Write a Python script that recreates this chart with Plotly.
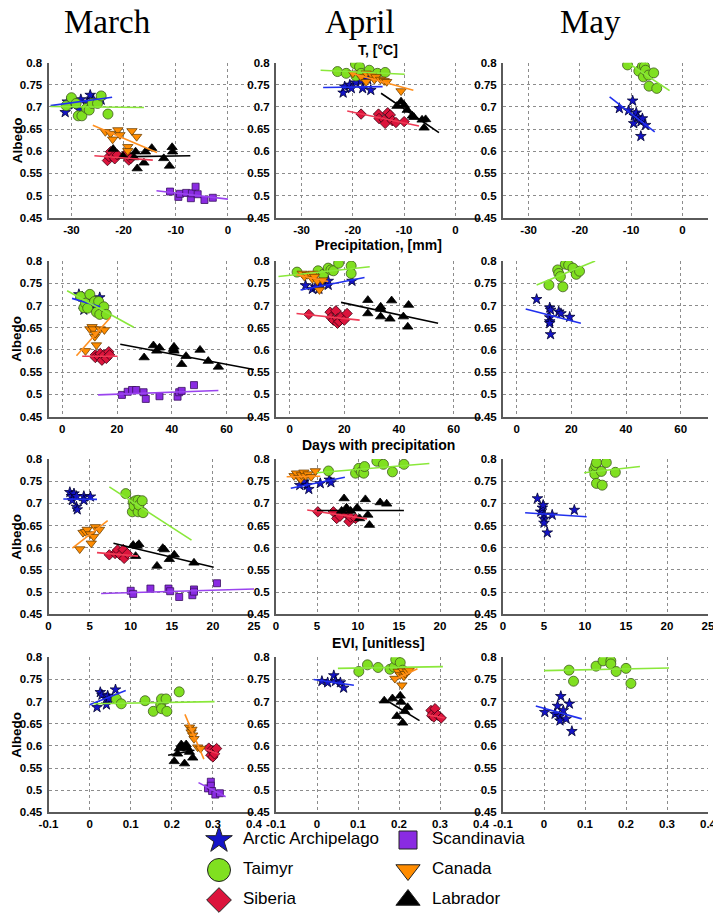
import plotly.graph_objects as go

# ---------------- DATA ----------------
# Naming: <ROW>_<MONTH>_<REGION>_X / _Y ; _FIT = [x_start, x_end, y_start, y_end] of drawn regression line
# ROW: T = temperature, P = precipitation, D = days with precipitation, E = EVI

MONTHS = ["March", "April", "May"]
ROW_TITLES = ["T, [°C]", "Precipitation, [mm]", "Days with precipitation", "EVI, [unitless]"]
REGION_NAMES = {"ARC": "Arctic Archipelago", "TAI": "Taimyr", "SIB": "Siberia",
                "CAN": "Canada", "LAB": "Labrador", "SCA": "Scandinavia"}
Y_TICKS = [0.45, 0.5, 0.55, 0.6, 0.65, 0.7, 0.75, 0.8]
Y_TICK_TEXT = ["0.45", "0.5", "0.55", "0.6", "0.65", "0.7", "0.75", "0.8"]
T_TICKS = [-30, -20, -10, 0]
T_TICK_TEXT = ["-30", "-20", "-10", "0"]
P_TICKS = [0, 20, 40, 60]
P_TICK_TEXT = ["0", "20", "40", "60"]
D_TICKS = [0, 5, 10, 15, 20, 25]
D_TICK_TEXT = ["0", "5", "10", "15", "20", "25"]
E_TICKS = [-0.1, 0, 0.1, 0.2, 0.3, 0.4]
E_TICK_TEXT = ["-0.1", "0", "0.1", "0.2", "0.3", "0.4"]

# ---- Temperature, March
T_MAR_ARC_X = [-31.2, -30.8, -29.5, -28.5, -28.2, -27.0, -26.4, -25.8, -24.3]
T_MAR_ARC_Y = [0.688, 0.712, 0.705, 0.694, 0.717, 0.711, 0.727, 0.716, 0.716]
T_MAR_ARC_FIT = [-34.0, -22.2, 0.703, 0.722]
T_MAR_TAI_X = [-31.0, -30.0, -29.1, -28.7, -28.0, -27.1, -26.6, -26.0, -25.0, -24.3, -23.0]
T_MAR_TAI_Y = [0.703, 0.721, 0.708, 0.680, 0.680, 0.697, 0.693, 0.708, 0.708, 0.725, 0.684]
T_MAR_TAI_FIT = [-34.0, -16.1, 0.701, 0.699]
T_MAR_SIB_X = [-23.1, -22.8, -22.5, -22.0, -21.7, -21.2, -19.5, -19.0, -18.6]
T_MAR_SIB_Y = [0.579, 0.588, 0.599, 0.588, 0.583, 0.592, 0.595, 0.580, 0.584]
T_MAR_SIB_FIT = [-25.6, -14.4, 0.590, 0.580]
T_MAR_CAN_X = [-23.5, -22.5, -22.1, -21.1, -20.7, -19.2, -19.2, -18.4, -17.5]
T_MAR_CAN_Y = [0.644, 0.640, 0.627, 0.648, 0.637, 0.610, 0.601, 0.646, 0.633]
T_MAR_CAN_FIT = [-25.9, -13.6, 0.659, 0.597]
T_MAR_LAB_X = [-22.0, -20.1, -18.0, -17.7, -17.4, -16.1, -15.8, -14.6, -12.3, -11.2, -10.7, -10.6]
T_MAR_LAB_Y = [0.605, 0.589, 0.586, 0.599, 0.561, 0.574, 0.599, 0.607, 0.584, 0.567, 0.609, 0.599]
T_MAR_LAB_FIT = [-18.4, -7.2, 0.588, 0.590]
T_MAR_SCA_X = [-11.1, -9.5, -9.2, -8.0, -7.1, -6.9, -6.2, -5.8, -4.5, -2.9]
T_MAR_SCA_Y = [0.509, 0.497, 0.504, 0.506, 0.494, 0.505, 0.520, 0.503, 0.490, 0.495]
T_MAR_SCA_FIT = [-13.7, 0.0, 0.511, 0.492]

# ---- Temperature, April
T_APR_ARC_X = [-21.9, -21.6, -20.6, -20.3, -19.4, -18.4, -18.1, -17.1, -16.5]
T_APR_ARC_Y = [0.732, 0.746, 0.750, 0.742, 0.755, 0.759, 0.742, 0.762, 0.738]
T_APR_ARC_FIT = [-25.8, -14.2, 0.744, 0.746]
T_APR_TAI_X = [-23.0, -21.3, -19.5, -19.4, -18.7, -18.4, -16.8, -15.2, -13.7]
T_APR_TAI_Y = [0.780, 0.776, 0.797, 0.770, 0.791, 0.776, 0.783, 0.776, 0.778]
T_APR_TAI_FIT = [-26.3, -9.9, 0.783, 0.774]
T_APR_SIB_X = [-18.4, -15.0, -14.9, -13.9, -13.7, -13.2, -12.7, -12.3, -11.6, -10.0]
T_APR_SIB_Y = [0.684, 0.684, 0.674, 0.671, 0.663, 0.687, 0.682, 0.669, 0.665, 0.667]
T_APR_SIB_FIT = [-21.1, -7.1, 0.691, 0.657]
T_APR_CAN_X = [-20.0, -18.4, -17.4, -17.4, -16.3, -15.8, -15.5, -14.6, -13.9, -13.4, -10.6]
T_APR_CAN_Y = [0.776, 0.768, 0.776, 0.757, 0.772, 0.762, 0.768, 0.762, 0.759, 0.757, 0.736]
T_APR_CAN_FIT = [-20.3, -8.2, 0.776, 0.738]
T_APR_LAB_X = [-11.4, -10.6, -10.0, -9.4, -8.4, -8.1, -6.5, -6.1, -5.8]
T_APR_LAB_Y = [0.702, 0.712, 0.704, 0.693, 0.680, 0.677, 0.671, 0.653, 0.672]
T_APR_LAB_FIT = [-14.5, -3.2, 0.731, 0.642]

# ---- Temperature, May
T_MAY_ARC_X = [-12.3, -10.5, -9.7, -9.5, -9.4, -9.0, -8.7, -8.1, -8.1, -7.8, -7.2]
T_MAY_ARC_Y = [0.697, 0.692, 0.714, 0.663, 0.680, 0.687, 0.677, 0.667, 0.634, 0.674, 0.659]
T_MAY_ARC_FIT = [-14.2, -5.4, 0.723, 0.644]
T_MAY_TAI_X = [-10.7, -8.5, -7.8, -7.6, -7.4, -7.2, -6.6, -6.5, -5.6, -5.0]
T_MAY_TAI_Y = [0.795, 0.781, 0.792, 0.768, 0.792, 0.783, 0.772, 0.747, 0.777, 0.742]
T_MAY_TAI_FIT = [-10.3, -2.5, 0.797, 0.737]

# ---- Precipitation, March
P_MAR_ARC_X = [6.1, 7.3, 7.9, 9.7, 11.5, 12.7, 13.7]
P_MAR_ARC_Y = [0.725, 0.720, 0.690, 0.709, 0.697, 0.705, 0.718]
P_MAR_ARC_FIT = [3.6, 13.9, 0.716, 0.697]
P_MAR_TAI_X = [6.7, 7.9, 8.5, 9.3, 10.1, 11.8, 12.5, 13.3, 13.7, 15.2, 16.1]
P_MAR_TAI_Y = [0.720, 0.695, 0.705, 0.694, 0.725, 0.709, 0.685, 0.709, 0.680, 0.697, 0.680]
P_MAR_TAI_FIT = [1.8, 26.1, 0.733, 0.651]
P_MAR_SIB_X = [12.1, 12.1, 13.3, 13.9, 14.5, 15.2, 16.1, 17.0, 17.3]
P_MAR_SIB_Y = [0.589, 0.583, 0.585, 0.592, 0.577, 0.589, 0.581, 0.596, 0.589]
P_MAR_SIB_FIT = [7.3, 20.2, 0.586, 0.586]
P_MAR_CAN_X = [8.5, 10.1, 10.9, 11.3, 11.9, 12.1, 12.5, 13.9, 15.4]
P_MAR_CAN_Y = [0.598, 0.647, 0.652, 0.647, 0.630, 0.637, 0.611, 0.647, 0.645]
P_MAR_CAN_FIT = [5.2, 17.6, 0.587, 0.673]
P_MAR_LAB_X = [29.9, 33.3, 34.5, 35.5, 40.6, 40.8, 40.8, 43.6, 45.2, 50.3, 53.3, 57.0]
P_MAR_LAB_Y = [0.583, 0.610, 0.598, 0.605, 0.602, 0.607, 0.598, 0.568, 0.586, 0.600, 0.575, 0.562]
P_MAR_LAB_FIT = [21.2, 70.0, 0.613, 0.556]
P_MAR_SCA_X = [21.8, 23.9, 25.5, 27.0, 29.7, 30.5, 35.5, 42.1, 42.7, 43.6, 48.1]
P_MAR_SCA_Y = [0.499, 0.506, 0.510, 0.510, 0.505, 0.490, 0.496, 0.495, 0.505, 0.508, 0.521]
P_MAR_SCA_FIT = [13.1, 57.0, 0.499, 0.509]

# ---- Precipitation, April
P_APR_ARC_X = [5.8, 8.3, 9.5, 10.7, 11.4, 14.1, 14.1, 22.8]
P_APR_ARC_Y = [0.745, 0.737, 0.742, 0.737, 0.748, 0.746, 0.755, 0.755]
P_APR_ARC_FIT = [4.0, 27.4, 0.735, 0.763]
P_APR_TAI_X = [2.7, 10.4, 12.3, 14.1, 15.1, 16.0, 17.9, 22.5, 22.5]
P_APR_TAI_Y = [0.775, 0.778, 0.770, 0.784, 0.780, 0.778, 0.795, 0.789, 0.772]
P_APR_TAI_FIT = [-4.1, 29.3, 0.765, 0.787]
P_APR_SIB_X = [7.0, 14.8, 15.1, 16.0, 16.9, 17.5, 17.5, 18.1, 18.8, 20.0, 21.0]
P_APR_SIB_Y = [0.680, 0.685, 0.673, 0.667, 0.688, 0.670, 0.660, 0.664, 0.675, 0.667, 0.682]
P_APR_SIB_FIT = [2.5, 25.6, 0.682, 0.667]
P_APR_CAN_X = [4.6, 5.4, 6.4, 7.7, 8.3, 8.6, 9.1, 10.1, 10.9, 12.0]
P_APR_CAN_Y = [0.772, 0.765, 0.769, 0.770, 0.760, 0.772, 0.765, 0.755, 0.735, 0.757]
P_APR_CAN_FIT = [2.5, 14.1, 0.769, 0.754]
P_APR_LAB_X = [28.6, 28.6, 33.3, 33.3, 33.3, 36.7, 37.3, 41.6, 43.2, 43.5]
P_APR_LAB_Y = [0.712, 0.682, 0.697, 0.692, 0.675, 0.670, 0.711, 0.675, 0.652, 0.701]
P_APR_LAB_FIT = [18.8, 54.3, 0.707, 0.660]

# ---- Precipitation, May
P_MAY_ARC_X = [7.3, 12.1, 12.4, 12.1, 12.1, 12.1, 12.4, 15.4, 16.2, 19.4]
P_MAY_ARC_Y = [0.714, 0.695, 0.690, 0.673, 0.664, 0.660, 0.635, 0.686, 0.682, 0.674]
P_MAY_ARC_FIT = [3.3, 23.5, 0.692, 0.660]
P_MAY_TAI_X = [11.8, 15.0, 15.4, 16.0, 16.9, 17.8, 19.0, 20.6, 21.8, 23.0]
P_MAY_TAI_Y = [0.746, 0.780, 0.772, 0.765, 0.742, 0.793, 0.791, 0.784, 0.770, 0.777]
P_MAY_TAI_FIT = [7.3, 28.7, 0.746, 0.800]

# ---- Days with precipitation, March
D_MAR_ARC_X = [2.6, 2.8, 2.9, 3.1, 3.4, 3.4, 3.5, 4.3, 4.3, 5.1]
D_MAR_ARC_Y = [0.725, 0.716, 0.707, 0.722, 0.716, 0.692, 0.686, 0.716, 0.707, 0.715]
D_MAR_ARC_FIT = [1.8, 5.9, 0.710, 0.709]
D_MAR_TAI_X = [9.4, 10.2, 10.3, 10.4, 10.6, 10.9, 10.9, 11.0, 11.4, 11.5]
D_MAR_TAI_Y = [0.722, 0.681, 0.703, 0.694, 0.706, 0.707, 0.681, 0.696, 0.706, 0.679]
D_MAR_TAI_FIT = [7.4, 17.4, 0.737, 0.617]
D_MAR_SIB_X = [7.4, 8.1, 8.3, 8.4, 8.7, 9.1, 9.2, 9.6]
D_MAR_SIB_Y = [0.584, 0.587, 0.591, 0.595, 0.584, 0.596, 0.576, 0.587]
D_MAR_SIB_FIT = [5.9, 10.9, 0.589, 0.581]
D_MAR_CAN_X = [3.8, 4.2, 4.5, 4.7, 5.1, 5.2, 5.5, 5.7, 6.2]
D_MAR_CAN_Y = [0.597, 0.634, 0.636, 0.641, 0.631, 0.610, 0.625, 0.647, 0.641]
D_MAR_CAN_FIT = [2.9, 7.2, 0.599, 0.661]
D_MAR_LAB_X = [10.3, 10.6, 10.8, 11.0, 13.2, 13.9, 14.1, 14.7, 15.3, 17.7]
D_MAR_LAB_Y = [0.606, 0.581, 0.604, 0.608, 0.559, 0.599, 0.596, 0.574, 0.584, 0.566]
D_MAR_LAB_FIT = [7.9, 20.1, 0.610, 0.556]
D_MAR_SCA_X = [10.0, 10.3, 12.4, 14.6, 14.8, 15.9, 17.5, 17.7, 17.7, 20.5]
D_MAR_SCA_Y = [0.503, 0.496, 0.508, 0.508, 0.502, 0.489, 0.493, 0.506, 0.501, 0.520]
D_MAR_SCA_FIT = [6.4, 25.0, 0.497, 0.507]

# ---- Days with precipitation, April
D_APR_ARC_X = [2.9, 3.4, 3.8, 4.0, 5.4, 6.5, 6.7]
D_APR_ARC_Y = [0.741, 0.749, 0.741, 0.732, 0.745, 0.753, 0.747]
D_APR_ARC_FIT = [1.8, 8.4, 0.734, 0.759]
D_APR_TAI_X = [6.4, 9.7, 10.1, 10.4, 10.7, 10.8, 12.3, 13.1, 14.2, 15.6]
D_APR_TAI_Y = [0.773, 0.768, 0.779, 0.771, 0.768, 0.783, 0.795, 0.788, 0.771, 0.788]
D_APR_TAI_FIT = [5.0, 18.7, 0.769, 0.790]
D_APR_SIB_X = [5.1, 7.0, 7.4, 7.8, 8.6, 8.9, 9.1, 9.7]
D_APR_SIB_Y = [0.681, 0.681, 0.666, 0.671, 0.676, 0.659, 0.669, 0.666]
D_APR_SIB_FIT = [3.8, 11.1, 0.685, 0.665]
D_APR_CAN_X = [2.2, 2.5, 2.8, 3.0, 3.1, 3.4, 3.6, 3.9, 4.3, 4.8]
D_APR_CAN_Y = [0.762, 0.768, 0.758, 0.755, 0.764, 0.770, 0.762, 0.766, 0.760, 0.773]
D_APR_CAN_FIT = [1.3, 5.4, 0.760, 0.761]
D_APR_LAB_X = [8.0, 8.3, 8.6, 9.1, 9.9, 10.2, 10.9, 11.2, 11.4, 12.7, 13.5]
D_APR_LAB_Y = [0.683, 0.711, 0.690, 0.683, 0.690, 0.666, 0.709, 0.674, 0.651, 0.702, 0.699]
D_APR_LAB_FIT = [5.0, 15.6, 0.684, 0.684]

# ---- Days with precipitation, May
D_MAY_ARC_X = [4.2, 4.6, 4.8, 4.9, 5.0, 5.0, 5.0, 5.4, 6.0, 8.7]
D_MAY_ARC_Y = [0.711, 0.681, 0.690, 0.696, 0.674, 0.665, 0.656, 0.634, 0.674, 0.685]
D_MAY_ARC_FIT = [2.7, 10.2, 0.679, 0.670]
D_MAY_TAI_X = [11.1, 11.2, 11.3, 11.4, 11.4, 12.0, 12.1, 12.6, 13.7]
D_MAY_TAI_Y = [0.776, 0.766, 0.785, 0.792, 0.745, 0.772, 0.741, 0.792, 0.770]
D_MAY_TAI_FIT = [9.9, 16.7, 0.769, 0.783]

# ---- EVI, March
E_MAR_ARC_X = [0.018, 0.026, 0.030, 0.041, 0.041, 0.044, 0.047, 0.063]
E_MAR_ARC_Y = [0.687, 0.721, 0.715, 0.706, 0.693, 0.713, 0.706, 0.727]
E_MAR_ARC_FIT = [0.0, 0.088, 0.693, 0.725]
E_MAR_TAI_X = [0.065, 0.077, 0.135, 0.155, 0.173, 0.175, 0.175, 0.186, 0.188, 0.218]
E_MAR_TAI_Y = [0.706, 0.695, 0.702, 0.678, 0.693, 0.706, 0.684, 0.706, 0.678, 0.722]
E_MAR_TAI_FIT = [0.010, 0.304, 0.695, 0.700]
E_MAR_SIB_X = [0.290, 0.295, 0.296, 0.300, 0.302, 0.304, 0.309]
E_MAR_SIB_Y = [0.595, 0.579, 0.590, 0.575, 0.588, 0.582, 0.594]
E_MAR_SIB_FIT = [0.282, 0.314, 0.592, 0.582]
E_MAR_CAN_X = [0.243, 0.247, 0.249, 0.251, 0.254, 0.263, 0.270]
E_MAR_CAN_Y = [0.642, 0.631, 0.637, 0.624, 0.616, 0.597, 0.594]
E_MAR_CAN_FIT = [0.232, 0.278, 0.671, 0.570]
E_MAR_LAB_X = [0.206, 0.214, 0.218, 0.223, 0.229, 0.231, 0.235, 0.239, 0.243, 0.251]
E_MAR_LAB_Y = [0.565, 0.582, 0.594, 0.603, 0.597, 0.560, 0.603, 0.594, 0.586, 0.573]
E_MAR_LAB_FIT = [0.191, 0.255, 0.579, 0.590]
E_MAR_SCA_X = [0.288, 0.295, 0.295, 0.298, 0.306, 0.317]
E_MAR_SCA_Y = [0.504, 0.519, 0.510, 0.498, 0.490, 0.493]
E_MAR_SCA_FIT = [0.265, 0.331, 0.517, 0.485]

# ---- EVI, April
E_APR_ARC_X = [0.012, 0.026, 0.041, 0.045, 0.057, 0.065]
E_APR_ARC_Y = [0.746, 0.743, 0.759, 0.746, 0.743, 0.731]
E_APR_ARC_FIT = [-0.008, 0.090, 0.750, 0.737]
E_APR_TAI_X = [0.102, 0.123, 0.149, 0.178, 0.188, 0.192, 0.203, 0.209]
E_APR_TAI_Y = [0.768, 0.783, 0.777, 0.773, 0.778, 0.795, 0.788, 0.771]
E_APR_TAI_FIT = [0.051, 0.307, 0.775, 0.779]
E_APR_SIB_X = [0.278, 0.280, 0.282, 0.285, 0.288, 0.295, 0.303]
E_APR_SIB_Y = [0.680, 0.668, 0.672, 0.665, 0.684, 0.669, 0.663]
E_APR_SIB_FIT = [0.270, 0.311, 0.670, 0.663]
E_APR_CAN_X = [0.190, 0.198, 0.203, 0.207, 0.210, 0.212, 0.215, 0.220, 0.225]
E_APR_CAN_Y = [0.752, 0.768, 0.760, 0.737, 0.770, 0.757, 0.763, 0.768, 0.771]
E_APR_CAN_FIT = [0.188, 0.245, 0.749, 0.774]
E_APR_LAB_X = [0.164, 0.184, 0.195, 0.203, 0.205, 0.209, 0.214, 0.221]
E_APR_LAB_Y = [0.702, 0.707, 0.667, 0.713, 0.699, 0.652, 0.678, 0.687]
E_APR_LAB_FIT = [0.162, 0.250, 0.707, 0.657]

# ---- EVI, May
E_MAY_ARC_X = [0.002, 0.027, 0.033, 0.038, 0.039, 0.041, 0.047, 0.054, 0.062, 0.068]
E_MAY_ARC_Y = [0.676, 0.672, 0.690, 0.667, 0.657, 0.712, 0.680, 0.661, 0.695, 0.633]
E_MAY_ARC_FIT = [-0.020, 0.092, 0.690, 0.661]
E_MAY_TAI_X = [0.061, 0.072, 0.127, 0.144, 0.163, 0.163, 0.176, 0.200, 0.212]
E_MAY_TAI_Y = [0.771, 0.746, 0.780, 0.792, 0.792, 0.785, 0.768, 0.775, 0.741]
E_MAY_TAI_FIT = [0.0, 0.305, 0.770, 0.776]

# ---------------- LAYOUT / STYLE ----------------
W, H = 713, 913
COLS_PX = [(48.5, 254.0), (276.0, 481.0), (503.0, 708.0)]
ROWS_PX = [(62.7, 217.7), (261.0, 416.7), (459.0, 614.3), (657.3, 812.3)]
ROW_KEYS = ["T", "P", "D", "E"]
MONTH_KEYS = ["MAR", "APR", "MAY"]
REGION_ORDER = ["ARC", "TAI", "SIB", "SCA", "CAN", "LAB"]
X_RANGES = {
    "T": [[-34.4, 5], [-35, 5], [-35, 5]],
    "P": [[-5, 70], [-5, 70], [-5, 70]],
    "D": [[0, 25], [0, 25], [0, 25]],
    "E": [[-0.1, 0.4], [-0.1, 0.4], [-0.1, 0.4]],
}
X_TICKS = {"T": (T_TICKS, T_TICK_TEXT), "P": (P_TICKS, P_TICK_TEXT),
           "D": (D_TICKS, D_TICK_TEXT), "E": (E_TICKS, E_TICK_TEXT)}

STYLE = {
    "ARC": dict(symbol="star", size=8, fill="#1414c8", edge="#000030", line="#2030ee", lsize=20),
    "TAI": dict(symbol="circle", size=10, fill="#80e020", edge="#405a20", line="#8ae83a", lsize=23),
    "SIB": dict(symbol="diamond", size=8, fill="#dc143c", edge="#3a0010", line="#ee3a55", lsize=19),
    "CAN": dict(symbol="triangle-down", size=9, fill="#ff8c00", edge="#704000", line="#ff9020", lsize=21),
    "LAB": dict(symbol="triangle-up", size=9, fill="#000000", edge="#000000", line="#000000", lsize=21),
    "SCA": dict(symbol="square", size=7, fill="#8a2be2", edge="#3a1060", line="#9a44ee", lsize=18),
}
LEGEND_SLOTS = [("ARC", 219, 840), ("SCA", 408, 840), ("TAI", 219, 870),
                ("CAN", 408, 870), ("SIB", 219, 900), ("LAB", 408, 900)]
LEGEND_TOP_PX = 822

TICK_FONT = dict(family="Liberation Sans, Arial, sans-serif", size=11.5, color="#000000", weight="bold")
GRID_COLOR = "#8c8c8c"
AXIS_COLOR = "#5a5a5a"

fx = lambda px: px / W
fy = lambda py: 1 - py / H

fig = go.Figure()
layout = dict(width=W, height=H, margin=dict(l=0, r=0, t=0, b=0, autoexpand=False),
              paper_bgcolor="white", plot_bgcolor="white", showlegend=False)

g = globals()
for r, rk in enumerate(ROW_KEYS):
    for c, mk in enumerate(MONTH_KEYS):
        k = r * 3 + c + 1
        xa = "x" if k == 1 else f"x{k}"
        ya = "y" if k == 1 else f"y{k}"
        present = [reg for reg in REGION_ORDER if f"{rk}_{mk}_{reg}_X" in g]
        for reg in present:
            st = STYLE[reg]
            fig.add_trace(go.Scatter(
                x=g[f"{rk}_{mk}_{reg}_X"], y=g[f"{rk}_{mk}_{reg}_Y"], mode="markers",
                name=REGION_NAMES[reg], xaxis=xa, yaxis=ya,
                marker=dict(symbol=st["symbol"], size=st["size"], color=st["fill"], opacity=1,
                            line=dict(color=st["edge"], width=0.8))))
        for reg in present:
            st = STYLE[reg]
            x0, x1, y0, y1 = g[f"{rk}_{mk}_{reg}_FIT"]
            fig.add_trace(go.Scatter(
                x=[x0, x1], y=[y0, y1], mode="lines", name=REGION_NAMES[reg] + " fit",
                xaxis=xa, yaxis=ya, line=dict(color=st["line"], width=1.6), hoverinfo="skip"))
        tv, tt = X_TICKS[rk]
        xkey = "xaxis" if k == 1 else f"xaxis{k}"
        ykey = "yaxis" if k == 1 else f"yaxis{k}"
        layout[xkey] = dict(domain=[fx(COLS_PX[c][0]), fx(COLS_PX[c][1])], anchor=ya,
                            range=X_RANGES[rk][c], tickvals=tv, ticktext=tt, automargin=False,
                            showgrid=True, gridcolor=GRID_COLOR, griddash="dot", gridwidth=1,
                            showline=True, linecolor=AXIS_COLOR, linewidth=2, zeroline=False,
                            ticks="", tickfont=TICK_FONT, ticklabeloverflow="allow")
        layout[ykey] = dict(domain=[fy(ROWS_PX[r][1]), fy(ROWS_PX[r][0])], anchor=xa,
                            range=[0.45, 0.8], tickvals=Y_TICKS, ticktext=Y_TICK_TEXT, automargin=False,
                            showgrid=True, gridcolor=GRID_COLOR, griddash="dot", gridwidth=1,
                            showline=True, linecolor=AXIS_COLOR, linewidth=2, zeroline=False,
                            ticks="", ticklabelstandoff=2, tickfont=TICK_FONT)

# legend drawn on a pixel-coordinate axis occupying the strip under the panels
fig.add_trace(go.Scatter(
    x=[s[1] for s in LEGEND_SLOTS], y=[s[2] for s in LEGEND_SLOTS], mode="markers",
    xaxis="x13", yaxis="y13", hoverinfo="skip", cliponaxis=False,
    marker=dict(symbol=[STYLE[s[0]]["symbol"] for s in LEGEND_SLOTS],
                size=[STYLE[s[0]]["lsize"] for s in LEGEND_SLOTS],
                color=[STYLE[s[0]]["fill"] for s in LEGEND_SLOTS], opacity=1,
                line=dict(color="#222222", width=1))))
fig.add_trace(go.Scatter(
    x=[s[1] + 24 for s in LEGEND_SLOTS], y=[s[2] for s in LEGEND_SLOTS], mode="text",
    text=[REGION_NAMES[s[0]] for s in LEGEND_SLOTS], textposition="middle right",
    xaxis="x13", yaxis="y13", hoverinfo="skip", cliponaxis=False,
    textfont=dict(family="Liberation Sans, Arial, sans-serif", size=17, color="#000000")))
layout["xaxis13"] = dict(domain=[0, 1], range=[0, W], visible=False, fixedrange=True,
                         anchor="y13", automargin=False)
layout["yaxis13"] = dict(domain=[0, fy(LEGEND_TOP_PX)], range=[H, LEGEND_TOP_PX], visible=False,
                         fixedrange=True, anchor="x13", automargin=False)

ann = []
MONTH_X = [107, 360, 590]
for m, xpx in zip(MONTHS, MONTH_X):
    ann.append(dict(text=m, x=fx(xpx), y=fy(22), xref="paper", yref="paper", showarrow=False,
                    xanchor="center", yanchor="middle",
                    font=dict(family="Liberation Serif, Times New Roman, serif", size=33, color="#000")))
ROW_TITLE_Y = [50, 245, 445, 643]
for t, ypx in zip(ROW_TITLES, ROW_TITLE_Y):
    ann.append(dict(text=f"<b>{t}</b>", x=fx(378), y=fy(ypx), xref="paper", yref="paper",
                    showarrow=False, xanchor="center", yanchor="middle",
                    font=dict(family="Liberation Sans, Arial, sans-serif", size=14, color="#000")))
for r in range(4):
    ann.append(dict(text="<b>Albedo</b>", x=fx(17), y=fy((ROWS_PX[r][0] + ROWS_PX[r][1]) / 2),
                    xref="paper", yref="paper", showarrow=False, textangle=-90,
                    xanchor="center", yanchor="middle",
                    font=dict(family="Liberation Sans, Arial, sans-serif", size=13.5, color="#000")))
layout["annotations"] = ann

fig.update_layout(**layout)
fig.write_html("out.html", config={"displayModeBar": False},
               post_script="document.body.style.margin='0px';document.body.style.overflow='hidden';")
